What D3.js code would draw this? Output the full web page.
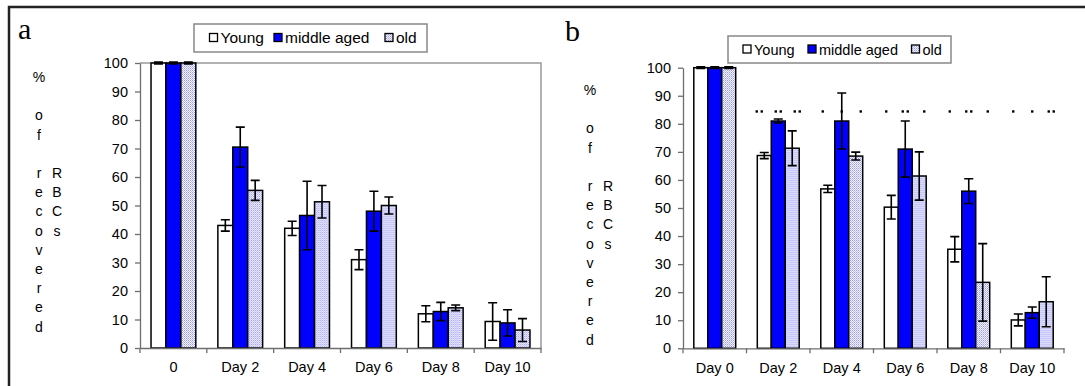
<!DOCTYPE html>
<html>
<head>
<meta charset="utf-8">
<script src="https://cdn.jsdelivr.net/npm/d3@7"></script>
<style>
  body { margin: 0; background: #fff; }
  svg { display: block; }
  text { font-family: "Liberation Sans", Arial, sans-serif; fill: #000; }
  .axis path, .axis line { stroke: #6e6e6e; stroke-width: 1.3px; }
  .axis text { font-size: 14.5px; }
</style>
</head>
<body>
<svg class="chart"></svg>
<script>
// categories and series
var categoriesA = ["0", "Day 2", "Day 4", "Day 6", "Day 8", "Day 10"];
var categoriesB = ["Day 0", "Day 2", "Day 4", "Day 6", "Day 8", "Day 10"];
var seriesNames = ["Young", "middle aged", "old"];
var yTicks = [0, 10, 20, 30, 40, 50, 60, 70, 80, 90, 100];

// panel a: mean and error
var youngA = [100, 43, 42, 31, 12, 9.3];
var middleA = [100, 70.5, 46.5, 48, 12.8, 8.8];
var oldA = [100, 55.3, 51.3, 50, 14.1, 6.3];
var youngErrA = [0.3, 2, 2.5, 3.5, 2.8, 6.6];
var middleErrA = [0.3, 7, 12, 7, 3.2, 4.6];
var oldErrA = [0.3, 3.5, 5.7, 3, 1, 4];

// panel b: mean and error
var youngB = [100, 68.7, 56.8, 50.3, 35.3, 10.1];
var middleB = [100, 81, 81, 71, 56, 12.7];
var oldB = [100, 71.3, 68.5, 61.4, 23.5, 16.6];
var youngErrB = [0.3, 1.1, 1.3, 4.2, 4.5, 2.1];
var middleErrB = [0.3, 0.7, 10, 10, 4.4, 2];
var oldErrB = [0.3, 6.2, 1.4, 8.6, 13.8, 8.9];

// panel b: number of significance dots over each bar
var sigDotsB = [[0, 0, 0], [2, 2, 2], [1, 1, 1], [1, 2, 1], [1, 2, 1], [1, 1, 2]];
var sigLevel = 84.4;

var yLabelCol1 = ["%", "", "o", "f", "", "r", "e", "c", "o", "v", "e", "r", "e", "d"];
var yLabelCol2 = ["", "", "", "", "", "R", "B", "C", "s"];

var W = 1085, H = 386;
var svg = d3.select(".chart").attr("width", W).attr("height", H);

// fill pattern for "old"
var pat = svg.append("defs").append("pattern")
    .attr("id", "dots")
    .attr("width", 2).attr("height", 2)
    .attr("patternUnits", "userSpaceOnUse");
pat.append("rect").attr("width", 2).attr("height", 2).attr("fill", "#f4f4ff");
pat.append("rect").attr("width", 1).attr("height", 1).attr("fill", "#9a9af0");
pat.append("rect").attr("x", 1).attr("y", 1).attr("width", 1).attr("height", 1).attr("fill", "#c0c0f6");

var fills = ["#ffffff", "#0000ff", "url(#dots)"];

// outer frame
svg.append("rect")
    .attr("x", 9).attr("y", 7)
    .attr("width", W + 10).attr("height", H + 10)
    .attr("fill", "none")
    .attr("stroke", "#222")
    .attr("stroke-width", 2.5);

function makeRows(cats, means, errs) {
    return cats.map(function(c, i) {
        return { cat: c, i: i, bars: means.map(function(m, s) {
            return { s: s, value: m[i], err: errs[s][i] };
        }) };
    });
}

function renderPanel(opt) {
    var x = d3.scaleBand().domain(opt.cats).range([opt.left, opt.right]);
    var bw = x.bandwidth();
    var xs = d3.scaleBand().domain(d3.range(3))
        .range([bw * opt.groupPad, bw * (1 - opt.groupPad)]);
    var y = d3.scaleLinear().domain([0, 100]).range([opt.bottom, opt.top]);

    var g = svg.append("g");

    // panel letter
    g.append("text")
        .attr("x", opt.letterX).attr("y", opt.letterY)
        .style("font-family", "'Liberation Serif', 'Times New Roman', serif")
        .style("font-size", "30px")
        .text(opt.letter);

    // stacked y label
    yLabelCol1.forEach(function(ch, k) {
        g.append("text").attr("x", opt.labelX).attr("y", opt.labelY + k * 19.2)
            .attr("text-anchor", "middle").style("font-size", "14px").text(ch);
    });
    yLabelCol2.forEach(function(ch, k) {
        g.append("text").attr("x", opt.labelX + 18).attr("y", opt.labelY + k * 19.2)
            .attr("text-anchor", "middle").style("font-size", "14px").text(ch);
    });

    if (opt.frame) {
        g.append("path")
            .attr("d", "M" + opt.left + "," + y(100) + "H" + opt.right + "V" + y(0))
            .attr("fill", "none")
            .attr("stroke", "#999")
            .attr("stroke-width", 1.5);
    }

    // bars
    var rows = makeRows(opt.cats, opt.means, opt.errs);
    var grp = g.selectAll(".grp").data(rows).enter().append("g")
        .attr("transform", function(d) { return "translate(" + x(d.cat) + ",0)"; });

    var bar = grp.selectAll(".bar").data(function(d) { return d.bars; })
        .enter().append("g");

    bar.append("rect")
        .attr("x", function(d) { return xs(d.s); })
        .attr("y", function(d) { return y(d.value); })
        .attr("width", xs.bandwidth())
        .attr("height", function(d) { return y(0) - y(d.value); })
        .attr("fill", function(d) { return fills[d.s]; })
        .attr("stroke", "#000")
        .attr("stroke-width", 1.5);

    // error bars
    var cap = 4.5;
    bar.append("path")
        .attr("d", function(d) {
            var cx = xs(d.s) + xs.bandwidth() / 2;
            var t = y(d.value + d.err), b = y(d.value - d.err);
            return "M" + cx + "," + t + "V" + b +
                "M" + (cx - cap) + "," + t + "H" + (cx + cap) +
                "M" + (cx - cap) + "," + b + "H" + (cx + cap);
        })
        .attr("fill", "none")
        .attr("stroke", "#000")
        .attr("stroke-width", 1.6);

    // significance dots
    if (opt.sig) {
        opt.sig.forEach(function(row, i) {
            row.forEach(function(n, s) {
                var cx = x(opt.cats[i]) + bw / 2 + (s - 1) * 19;
                for (var k = 0; k < n; k++) {
                    var dx = cx - (n - 1) * 2.5 + k * 5;
                    g.append("rect")
                        .attr("x", dx - 1.2).attr("y", y(sigLevel) - 1.2)
                        .attr("width", 2.4).attr("height", 2.4)
                        .attr("fill", "#000");
                }
            });
        });
    }

    // axes
    var yAxis = d3.axisLeft(y).tickValues(yTicks).tickSize(5).tickSizeOuter(0).tickPadding(7);
    g.append("g").attr("class", "y axis")
        .attr("transform", "translate(" + opt.left + ",0)")
        .call(yAxis);

    var xAxis = d3.axisBottom(x).tickSize(0).tickPadding(14);
    var xg = g.append("g").attr("class", "x axis")
        .attr("transform", "translate(0," + y(0) + ")")
        .call(xAxis);
    var bounds = opt.cats.map(function(c) { return x(c); }).concat([opt.right]);
    xg.selectAll(".bound").data(bounds).enter().append("line")
        .attr("class", "bound")
        .attr("x1", function(d) { return d; }).attr("x2", function(d) { return d; })
        .attr("y1", 0).attr("y2", 5);

    // legend
    var lg = g.append("g");
    lg.append("rect")
        .attr("x", opt.legend.x).attr("y", opt.legend.y)
        .attr("width", opt.legend.w).attr("height", opt.legend.h)
        .attr("fill", "#fff").attr("stroke", "#888").attr("stroke-width", 1.5);
    seriesNames.forEach(function(name, s) {
        var mx = opt.legend.items[s];
        var cy = opt.legend.y + opt.legend.h / 2;
        lg.append("rect")
            .attr("x", mx).attr("y", cy - 4.5)
            .attr("width", 8).attr("height", 8)
            .attr("fill", fills[s]).attr("stroke", "#000").attr("stroke-width", 1.3);
        lg.append("text")
            .attr("x", mx + 11).attr("y", cy + 5)
            .style("font-size", opt.legend.fs + "px")
            .text(name);
    });
}

renderPanel({
    letter: "a", letterX: 18, letterY: 39,
    labelX: 39, labelY: 82,
    cats: categoriesA,
    means: [youngA, middleA, oldA],
    errs: [youngErrA, middleErrA, oldErrA],
    left: 140, right: 541, top: 63, bottom: 348,
    groupPad: 0.165,
    frame: true,
    legend: { x: 194, y: 24, w: 233, h: 28, items: [209.5, 274, 385], fs: 15.5 }
});

renderPanel({
    letter: "b", letterX: 565, letterY: 41,
    labelX: 590, labelY: 95,
    cats: categoriesB,
    means: [youngB, middleB, oldB],
    errs: [youngErrB, middleErrB, oldErrB],
    left: 683, right: 1064, top: 67.7, bottom: 348.3,
    groupPad: 0.17,
    sig: sigDotsB,
    legend: { x: 728, y: 36, w: 223, h: 27, items: [743, 808, 911.5], fs: 14.5 }
});
</script>
</body>
</html>
